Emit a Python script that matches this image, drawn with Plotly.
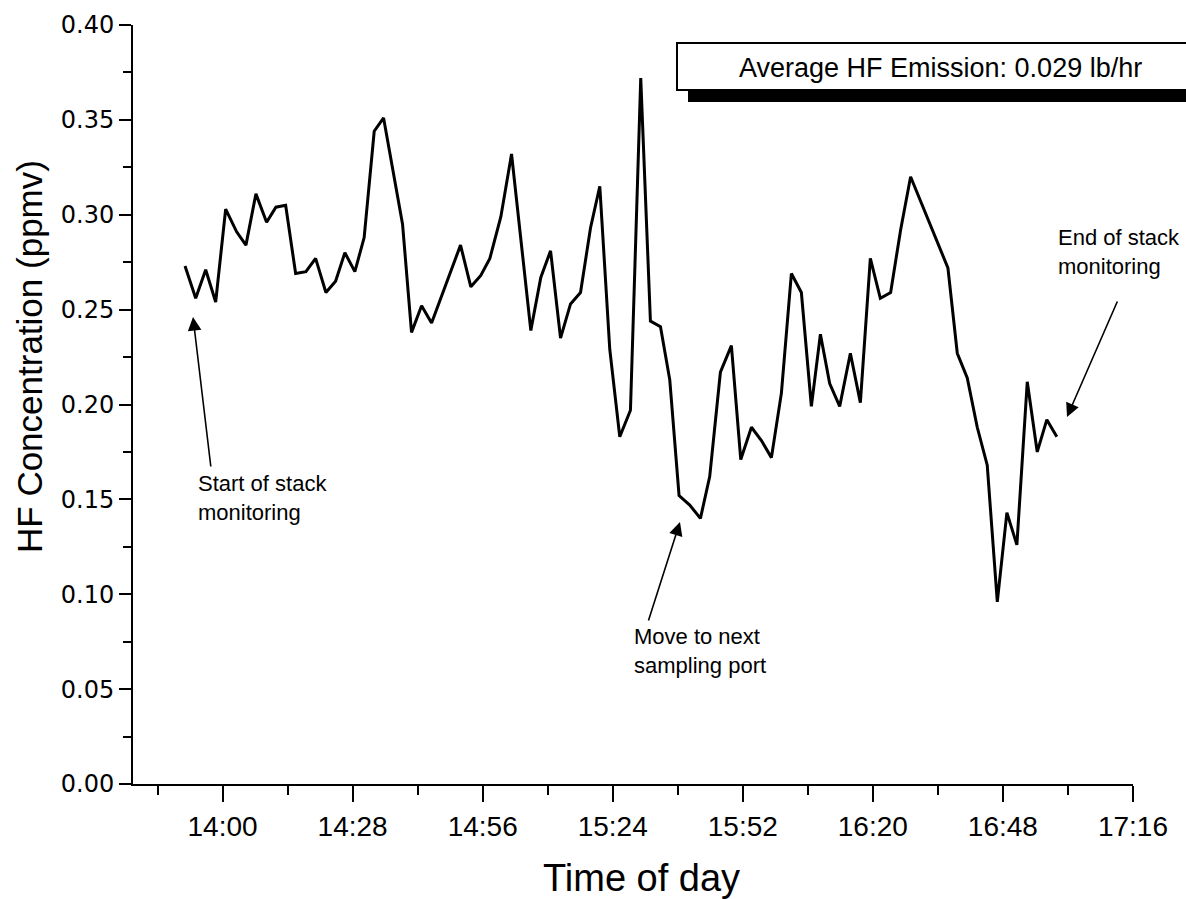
import plotly.graph_objects as go

# ---- data ----
times = [
    "13:51:55", "13:54:13", "13:56:22", "13:58:31", "14:00:40", "14:03:02", "14:05:02", "14:07:11",
    "14:09:29", "14:11:29", "14:13:35", "14:15:44", "14:17:57", "14:20:02", "14:22:15", "14:24:20",
    "14:26:20", "14:28:29", "14:30:29", "14:32:39", "14:34:40", "14:38:45", "14:40:41", "14:42:51",
    "14:45:00", "14:51:14", "14:53:27", "14:55:36", "14:57:33", "14:59:55", "15:02:13", "15:06:22",
    "15:08:31", "15:10:37", "15:12:46", "15:14:55", "15:17:04", "15:19:13", "15:21:13", "15:23:22",
    "15:25:31", "15:27:49", "15:30:02", "15:32:07", "15:34:17", "15:36:17", "15:38:17", "15:40:35",
    "15:42:53", "15:44:53", "15:47:11", "15:49:33", "15:51:34", "15:53:52", "15:56:01", "15:58:10",
    "16:00:19", "16:02:28", "16:04:37", "16:06:46", "16:08:43", "16:10:43", "16:12:52", "16:15:10",
    "16:17:19", "16:19:28", "16:21:37", "16:23:50", "16:25:59", "16:28:08", "16:36:10", "16:38:11",
    "16:40:20", "16:42:29", "16:44:38", "16:46:48", "16:48:52", "16:51:01", "16:53:15", "16:55:24",
    "16:57:28", "16:59:37",
]
hf_ppmv = [
    0.273, 0.256, 0.271, 0.254, 0.303, 0.291, 0.284, 0.311,
    0.296, 0.304, 0.305, 0.269, 0.270, 0.277, 0.259, 0.265,
    0.280, 0.270, 0.288, 0.344, 0.351, 0.295, 0.238, 0.252,
    0.243, 0.284, 0.262, 0.268, 0.277, 0.299, 0.332, 0.239,
    0.267, 0.281, 0.235, 0.253, 0.259, 0.293, 0.315, 0.229,
    0.183, 0.197, 0.372, 0.244, 0.241, 0.213, 0.152, 0.147,
    0.140, 0.162, 0.217, 0.231, 0.171, 0.188, 0.181, 0.172,
    0.206, 0.269, 0.259, 0.199, 0.237, 0.211, 0.199, 0.227,
    0.201, 0.277, 0.256, 0.259, 0.292, 0.320, 0.272, 0.227,
    0.214, 0.188, 0.168, 0.096, 0.143, 0.126, 0.212, 0.175,
    0.192, 0.183,
]
day = "2000-01-01 "
x_range = ["13:40:43", "17:16:01"]
y_range = [0, 0.40]
avg_text = "Average HF Emission: 0.029 lb/hr"
notes = ["Start of stack<br>monitoring", "Move to next<br>sampling port", "End of stack<br>monitoring"]

# ---- layout geometry (pixels) ----
W, H = 1186, 899
L, R, T, B = 133, 53, 25, 115
PW, PH = W - L - R, H - T - B


def px(x):
    return (x - L) / PW


def py(y):
    return (H - B - y) / PH


fig = go.Figure()
fig.add_trace(go.Scatter(
    x=[day + t for t in times], y=hf_ppmv, mode="lines",
    line=dict(color="black", width=3), showlegend=False, hoverinfo="skip",
))

black = "black"
fig.update_layout(
    width=W, height=H, margin=dict(l=L, r=R, t=T, b=B),
    paper_bgcolor="white", plot_bgcolor="white", showlegend=False,
    xaxis=dict(
        type="date", range=[day + x_range[0], day + x_range[1]],
        tick0=day + "14:00", dtick=28 * 60 * 1000, tickformat="%H:%M",
        showgrid=False, zeroline=False, showline=True, linecolor=black, linewidth=2,
        ticks="outside", ticklen=16, tickwidth=2, tickcolor=black,
        minor=dict(ticks="outside", ticklen=9, tickwidth=2, tickcolor=black, dtick=14 * 60 * 1000,
                   tick0=day + "14:00", showgrid=False),
        tickfont=dict(family="Liberation Sans, Arial", size=28, color=black),
    ),
    yaxis=dict(
        range=y_range, dtick=0.05, tickformat=".2f",
        showgrid=False, zeroline=False, showline=True, linecolor=black, linewidth=2,
        ticks="outside", ticklen=12, tickwidth=2, tickcolor=black,
        minor=dict(ticks="outside", ticklen=8, tickwidth=2, tickcolor=black, dtick=0.025, showgrid=False),
        tickfont=dict(family="DejaVu Sans", size=24, color=black),
    ),
)

title_font = "Liberation Sans, Arial"
fig.add_annotation(text="HF Concentration (ppmv)", textangle=-90, xref="paper", yref="paper",
                   x=px(30), y=py(357), showarrow=False, xanchor="center", yanchor="middle",
                   font=dict(family=title_font, size=35, color=black))
fig.add_annotation(text="Time of day", xref="paper", yref="paper",
                   x=px(641), y=py(878), showarrow=False, xanchor="center", yanchor="middle",
                   font=dict(family=title_font, size=38, color=black))

# average box with shadow
fig.add_shape(type="rect", xref="paper", yref="paper", x0=px(688), x1=px(1200), y0=py(102), y1=py(90),
              fillcolor=black, line=dict(width=0), layer="above")
fig.add_shape(type="rect", xref="paper", yref="paper", x0=px(677), x1=px(1200), y0=py(90), y1=py(43),
              fillcolor="white", line=dict(color=black, width=2), layer="above")
fig.add_annotation(text=avg_text, xref="paper", yref="paper", x=px(940), y=py(68), showarrow=False,
                   xanchor="center", yanchor="middle",
                   font=dict(family="Liberation Sans, Arial", size=27, color=black))

note_font = dict(family="Liberation Sans, Arial", size=22, color=black)
# note texts (left aligned)
for txt, (xl, ytop) in zip(notes, [(196, 469), (632, 622), (1056, 223)]):
    fig.add_annotation(text=txt, xref="paper", yref="paper", x=px(xl), y=py(ytop), showarrow=False,
                       xanchor="left", yanchor="top", align="left", font=note_font)

# arrows: (tip_x, tip_y, tail_x, tail_y) in pixels
for tx, ty, sx, sy in [(193, 317, 211, 468), (680, 522, 648, 622), (1067, 417, 1118, 300)]:
    fig.add_annotation(text="", xref="paper", yref="paper", x=px(tx), y=py(ty),
                       ax=sx - tx, ay=sy - ty, showarrow=True, arrowhead=2, arrowsize=1.7,
                       arrowwidth=1.6, arrowcolor=black, standoff=0, startstandoff=0)

fig.write_html("out.html")
